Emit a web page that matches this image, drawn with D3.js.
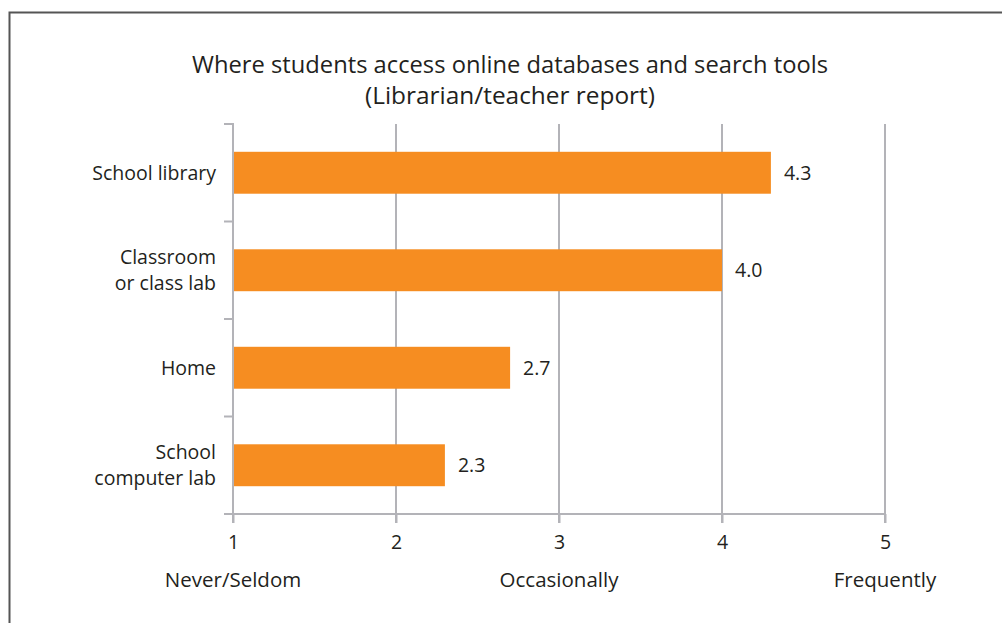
<!DOCTYPE html>
<html>
<head>
<meta charset="utf-8">
<script src="https://cdn.jsdelivr.net/npm/d3@7"></script>
<style>
  html, body { margin: 0; padding: 0; background: #fff; }
  svg { display: block; }
  text { font-family: "Open Sans", "Noto Sans", sans-serif; fill: #231f20; }
</style>
</head>
<body>
<svg id="chart" width="1002" height="623"></svg>
<script>
// Mean frequency ratings (1 = Never/Seldom ... 5 = Frequently)
const categories = [["School library"], ["Classroom", "or class lab"], ["Home"], ["School", "computer lab"]];
const values = [4.3, 4.0, 2.7, 2.3];
const ticks = [1, 2, 3, 4, 5];
const scaleLabels = [[1, "Never/Seldom"], [3, "Occasionally"], [5, "Frequently"]];
const titleLines = ["Where students access online databases and search tools", "(Librarian/teacher report)"];

const svg = d3.select("#chart");
const W = 1002, H = 623;
const plotLeft = 233, plotRight = 885, plotTop = 124, plotBottom = 514;
const axisColor = "#b3b3b8";
const barColor = "#f68d21";

// outer frame
svg.append("path")
  .attr("d", `M9.5,${H + 2} V12.5 H${W + 2}`)
  .attr("fill", "none").attr("stroke", "#555").attr("stroke-width", 2);

// title
svg.append("g").selectAll("text").data(titleLines).join("text")
  .attr("x", 510).attr("y", (d, i) => 73 + i * 31)
  .attr("text-anchor", "middle").attr("font-size", 23)
  .attr("textLength", (d, i) => i === 0 ? 636 : 290)
  .attr("lengthAdjust", "spacingAndGlyphs")
  .text(d => d);

const x = d3.scaleLinear().domain([1, 5]).range([plotLeft, plotRight]);
const y = d3.scaleBand().domain(d3.range(categories.length)).range([plotTop, plotBottom]).paddingInner(0.57).paddingOuter(0.285);

// vertical grid lines with ticks below the axis
svg.append("g").selectAll("line").data(ticks.slice(1)).join("line")
  .attr("x1", d => x(d)).attr("x2", d => x(d))
  .attr("y1", plotTop).attr("y2", plotBottom + 9)
  .attr("stroke", axisColor).attr("stroke-width", 2);

// x axis
const xAxis = d3.axisBottom(x).tickValues(ticks).tickSize(9).tickPadding(12).tickFormat(d3.format("d"));
const gx = svg.append("g").attr("transform", `translate(0,${plotBottom})`).call(xAxis);
gx.select(".domain").remove();
gx.selectAll(".tick line").attr("stroke", axisColor).attr("stroke-width", 2);
gx.selectAll(".tick text").attr("font-size", 19.5).attr("fill", "#231f20")
  .attr("font-family", "'Open Sans', 'Noto Sans', sans-serif");
svg.append("line")
  .attr("x1", plotLeft - 9).attr("x2", plotRight).attr("y1", plotBottom).attr("y2", plotBottom)
  .attr("stroke", axisColor).attr("stroke-width", 2);

// y axis with band boundary ticks
svg.append("line")
  .attr("x1", plotLeft).attr("x2", plotLeft).attr("y1", plotTop - 1).attr("y2", plotBottom + 9)
  .attr("stroke", axisColor).attr("stroke-width", 2);
const bounds = d3.range(categories.length).map(i => plotTop + i * y.step());
svg.append("g").selectAll("line").data(bounds).join("line")
  .attr("x1", plotLeft - 9).attr("x2", plotLeft).attr("y1", d => d).attr("y2", d => d)
  .attr("stroke", axisColor).attr("stroke-width", 2);

// bars
svg.append("g").selectAll("rect").data(values).join("rect")
  .attr("x", x(1) + 1).attr("y", (d, i) => y(i))
  .attr("width", d => x(d) - x(1) - 1).attr("height", y.bandwidth())
  .attr("fill", barColor);

// value labels
svg.append("g").selectAll("text").data(values).join("text")
  .attr("x", d => x(d) + 13).attr("y", (d, i) => y(i) + y.bandwidth() / 2 + 7)
  .attr("font-size", 19.5).text(d => d.toFixed(1));

// category labels, one text element per line
const lineGap = 26;
const catLines = categories.flatMap((lines, i) => lines.map((t, j) => ({
  t, cy: y(i) + y.bandwidth() / 2 + 7 + (j - (lines.length - 1) / 2) * lineGap
})));
svg.append("g").selectAll("text").data(catLines).join("text")
  .attr("x", 216).attr("y", d => d.cy)
  .attr("text-anchor", "end").attr("font-size", 19.5)
  .text(d => d.t);

// scale anchor labels
svg.append("g").selectAll("text").data(scaleLabels).join("text")
  .attr("x", d => x(d[0])).attr("y", 587)
  .attr("text-anchor", "middle").attr("font-size", 20.5)
  .text(d => d[1]);
</script>
</body>
</html>
